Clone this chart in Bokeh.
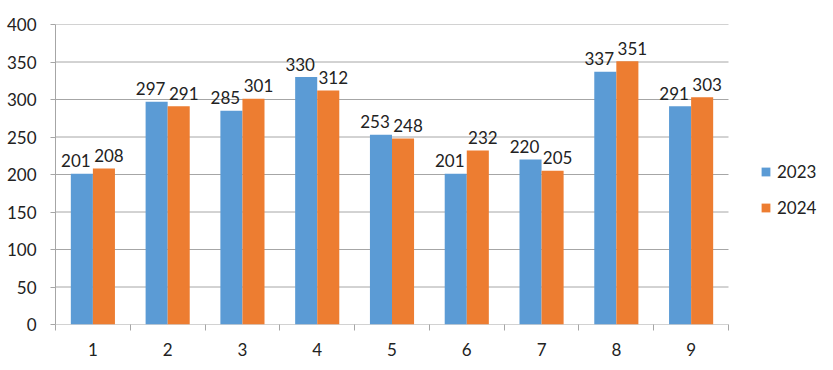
from bokeh.plotting import figure
from bokeh.models import ColumnDataSource, Range1d, FixedTicker, Legend, LegendItem
from bokeh.core.properties import value
from bokeh.embed import file_html
from bokeh.resources import INLINE
import numpy as np

# ---- data ----
categories = ["1", "2", "3", "4", "5", "6", "7", "8", "9"]
series_names = ["2023", "2024"]
values_2023 = [201, 297, 285, 330, 253, 201, 220, 337, 291]
values_2024 = [208, 291, 301, 312, 248, 232, 205, 351, 303]
y_ticks = [0, 50, 100, 150, 200, 250, 300, 350, 400]

# ---- style / layout ----
FONT = "Lato"
BLUE = "#5B9BD5"
ORANGE = "#ED7D31"
GRID = "#A6A6A6"
TEXT = "#222222"
bar_w = 0.295
W, H = 825, 362
LEFT, TOP, BOTTOM = 55, 24, 38
PLOT_PX = 673          # width of the category area in pixels
FRAME_PX = W - LEFT    # frame extends to the right edge to host the legend

n = len(categories)
xs = np.arange(1, n + 1, dtype=float)
x_lo, x_hi = 0.5, n + 0.5
x_end = x_lo + (x_hi - x_lo) * FRAME_PX / PLOT_PX

src = ColumnDataSource(dict(
    x23=xs - bar_w / 2,
    x24=xs + bar_w / 2,
    v23=values_2023,
    v24=values_2024,
    t23=[str(v) for v in values_2023],
    t24=[str(v) for v in values_2024],
))

p = figure(
    width=W, height=H,
    output_backend="svg", toolbar_location=None,
    x_range=Range1d(x_lo, x_end),
    y_range=Range1d(y_ticks[0], y_ticks[-1]),
    min_border_left=LEFT, min_border_right=0,
    min_border_top=TOP, min_border_bottom=BOTTOM,
)
p.outline_line_color = None
p.background_fill_color = "white"
p.border_fill_color = "white"

# horizontal gridlines limited to the category area
p.xgrid.grid_line_color = None
p.ygrid.grid_line_color = None
p.segment(x0=[x_lo] * len(y_ticks), x1=[x_hi] * len(y_ticks),
          y0=y_ticks, y1=y_ticks, line_color=GRID, line_width=1)

r23 = p.vbar(x="x23", top="v23", width=bar_w, bottom=0, source=src,
             fill_color=BLUE, line_color=None)
r24 = p.vbar(x="x24", top="v24", width=bar_w, bottom=0, source=src,
             fill_color=ORANGE, line_color=None)

# data labels
p.text(x="x23", y="v23", text="t23", source=src, x_offset=-6, y_offset=-13,
       text_align="center", text_baseline="alphabetic",
       text_font=value(FONT), text_font_size="17px", text_color=TEXT)
p.text(x="x24", y="v24", text="t24", source=src, x_offset=5, y_offset=-13,
       text_align="center", text_baseline="alphabetic",
       text_font=value(FONT), text_font_size="17px", text_color=TEXT)

# x axis
xa = p.xaxis[0]
xa.ticker = FixedTicker(ticks=list(xs), minor_ticks=list(np.arange(x_lo, x_hi + 0.01, 1.0)))
xa.major_label_overrides = {int(x): c for x, c in zip(xs, categories)}
xa.major_tick_line_color = None
xa.major_tick_out = 0
xa.major_tick_in = 0
xa.minor_tick_out = 6
xa.minor_tick_in = 0
xa.minor_tick_line_color = GRID
xa.axis_line_color = None
xa.major_label_standoff = 12
xa.major_label_text_font = FONT
xa.major_label_text_font_size = "17px"
xa.major_label_text_color = TEXT

# y axis
ya = p.yaxis[0]
ya.ticker = FixedTicker(ticks=y_ticks)
ya.major_tick_out = 5
ya.major_tick_in = 0
ya.minor_tick_line_color = None
ya.major_tick_line_color = GRID
ya.axis_line_color = GRID
ya.major_label_standoff = 14
ya.major_label_text_font = FONT
ya.major_label_text_font_size = "17px"
ya.major_label_text_color = TEXT

# legend (inside the extended frame, right of the bars)
legend = Legend(
    items=[LegendItem(label=series_names[0], renderers=[r23]),
           LegendItem(label=series_names[1], renderers=[r24])],
    location=(PLOT_PX + 32, 106),
    margin=0, padding=0,
    border_line_color=None, background_fill_alpha=0,
    glyph_width=11, glyph_height=11,
    label_standoff=6, label_height=18, spacing=15,
    label_text_font=FONT, label_text_font_size="17px",
    label_text_color=TEXT, label_text_baseline="middle",
)
p.add_layout(legend, "center")

open("out.html", "w").write(file_html(p, INLINE))
